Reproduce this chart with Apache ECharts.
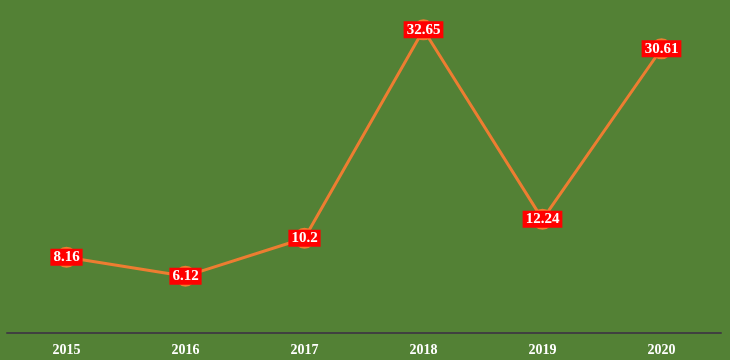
<!DOCTYPE html>
<html><head><meta charset="utf-8">
<script src="https://cdn.jsdelivr.net/npm/echarts@6/dist/echarts.min.js"></script>
<style>html,body{margin:0;padding:0;background:#538135;}#c{width:730px;height:360px;}</style>
</head><body><div id="c"></div>
<script>
var categories = ['2015','2016','2017','2018','2019','2020'];
var values = [8.16, 6.12, 10.2, 32.65, 12.24, 30.61];
var chart = echarts.init(document.getElementById('c'));
chart.setOption({
  backgroundColor: '#538135',
  animation: false,
  grid: {left: 7, right: 9, top: 8, bottom: 27},
  xAxis: {
    type: 'category', data: categories, boundaryGap: true,
    axisLine: {lineStyle: {color: '#404040', width: 2}},
    axisTick: {show: false},
    axisLabel: {color: '#fff', fontFamily: '"Liberation Serif", serif', fontWeight: 'bold', fontSize: 14, margin: 10}
  },
  yAxis: {type: 'value', min: 0, max: 35, show: false, splitLine: {show: false}},
  series: [{
    type: 'line', data: values,
    lineStyle: {color: '#ED7D31', width: 3},
    itemStyle: {color: '#ED7D31'},
    symbol: 'circle', symbolSize: 21,
    label: {
      show: true, position: 'inside', color: '#fff', fontFamily: '"Liberation Serif", serif', fontWeight: 'bold', fontSize: 15,
      backgroundColor: '#FF0000', padding: [1, 3, 1, 3]
    }
  }]
});
</script></body></html>
